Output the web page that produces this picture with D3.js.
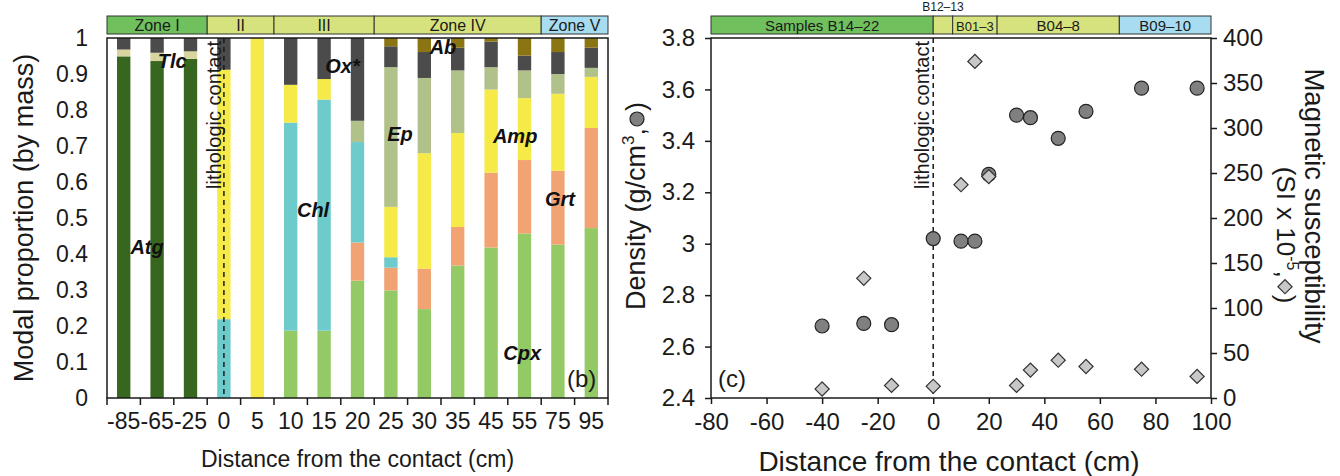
<!DOCTYPE html>
<html>
<head>
<meta charset="utf-8">
<title>Modal proportion, density and magnetic susceptibility</title>
<script src="https://cdn.jsdelivr.net/npm/d3@7"></script>
<style>
    html, body { margin: 0; padding: 0; background: #fff; }
    svg { display: block; font-family: "Liberation Sans", Arial, sans-serif; }
    .mineral { font-weight: bold; font-style: italic; font-size: 20px; fill: #111; }
</style>
</head>
<body>
<svg id="chart" width="1340" height="476"></svg>
<script>
// ---- (b) modal proportions, one array per mineral, same order as samples
var samples = ["-85", "-65", "-25", "0", "5", "10", "15", "20", "25", "30", "35", "45", "55", "75", "95"];
var cpx = [0, 0, 0, 0, 0, 0.187, 0.187, 0.326, 0.299, 0.247, 0.368, 0.418, 0.457, 0.426, 0.472];
var grt = [0, 0, 0, 0, 0, 0, 0, 0.106, 0.063, 0.112, 0.107, 0.208, 0.204, 0.205, 0.278];
var chl = [0, 0, 0, 0.219, 0, 0.578, 0.642, 0.279, 0.029, 0, 0, 0, 0, 0, 0];
var amp = [0, 0, 0, 0.693, 1, 0.105, 0.057, 0, 0.14, 0.321, 0.261, 0.231, 0.172, 0.214, 0.142];
var ep  = [0, 0, 0, 0, 0, 0, 0, 0.059, 0.388, 0.209, 0.174, 0.062, 0.077, 0.055, 0.025];
var atg = [0.949, 0.936, 0.942, 0, 0, 0, 0, 0, 0, 0, 0, 0, 0, 0, 0];
var tlc = [0.019, 0.023, 0.021, 0, 0, 0, 0, 0, 0, 0, 0, 0, 0, 0, 0];
var ox  = [0.032, 0.041, 0.037, 0.088, 0, 0.13, 0.114, 0.23, 0.058, 0.072, 0.063, 0.071, 0.041, 0.061, 0.056];
var ab  = [0, 0, 0, 0, 0, 0, 0, 0, 0.023, 0.039, 0.027, 0.01, 0.049, 0.039, 0.027];

// zones of (b), as [first sample index, last index + 1]
var zoneLabels = ["Zone I", "II", "III", "Zone IV", "Zone V"];
var zoneStart  = [0, 3, 5, 8, 13];
var zoneEnd    = [3, 5, 8, 13, 15];

// ---- (c) density and magnetic susceptibility
var densDist = [-40, -25, -15, 0, 10, 15, 20, 30, 35, 45, 55, 75, 95];
var density  = [2.68, 2.69, 2.685, 3.02, 3.01, 3.01, 3.27, 3.5, 3.49, 3.41, 3.515, 3.605, 3.605];
var magDist  = [-40, -25, -15, 0, 10, 15, 20, 30, 35, 45, 55, 75, 95];
var magSusc  = [10, 133, 14, 13, 237, 374, 246, 14, 31, 42, 35, 32, 24];

// sample groups of (c), in cm
var groupLabels = ["Samples B14\u201322", "", "B01\u20133", "B04\u20138", "B09\u201310"];
var groupStart  = [-80, 0, 7, 23, 67];
var groupEnd    = [0, 7, 23, 67, 100];

var ink = "#1a1a1a";
var colors = {
    Cpx: "#93ca66", Grt: "#f1a373", Chl: "#6ecbcb", Amp: "#f5ea48", Ep: "#b1c18a",
    Atg: "#37661f", Tlc: "#d9d59e", Ox: "#4b4b4b", Ab: "#8b7513"
};
var zoneFill = ["#70c05d", "#d6e27d", "#d6e27d", "#d6e27d", "#a8dcf0"];

var svg = d3.select("#chart");

// plain hyphen for negatives, like the original
function num(d) { return String(+d.toFixed(2)); }

function styleAxis(size) {
    return function(g) {
        g.attr("font-size", size).attr("font-family", null);
        g.selectAll("text").attr("fill", ink);
        g.selectAll("line").attr("stroke", ink).attr("stroke-width", 1.5);
        g.select(".domain").remove();
    };
}

// =========================== (b) stacked bars
var B = {left: 107, right: 608, top: 38, bottom: 398};
var x = d3.scaleBand().domain(samples).range([B.left, B.right]).paddingInner(0.6).paddingOuter(0.3);
var y = d3.scaleLinear().domain([0, 1]).range([B.bottom, B.top]);

var byMineral = {Cpx: cpx, Grt: grt, Chl: chl, Amp: amp, Ep: ep, Atg: atg, Tlc: tlc, Ox: ox, Ab: ab};
var keys = ["Cpx", "Grt", "Chl", "Amp", "Ep", "Atg", "Tlc", "Ox", "Ab"];
var rows = samples.map(function(s, i) {
    var r = {sample: s};
    keys.forEach(function(k) { r[k] = byMineral[k][i]; });
    return r;
});
var layers = d3.stack().keys(keys)(rows);

svg.append("g").selectAll("g")
    .data(layers)
    .join("g")
    .attr("fill", function(d) { return colors[d.key]; })
    .selectAll("rect")
    .data(function(d) { return d.filter(function(p) { return p[1] - p[0] > 0; }); })
    .join("rect")
    .attr("x", function(d) { return x(d.data.sample); })
    .attr("y", function(d) { return y(d[1]); })
    .attr("width", x.bandwidth())
    .attr("height", function(d) { return y(d[0]) - y(d[1]); });

// frame
svg.append("rect")
    .attr("x", B.left).attr("y", B.top)
    .attr("width", B.right - B.left).attr("height", B.bottom - B.top)
    .attr("fill", "none").attr("stroke", ink).attr("stroke-width", 1.5);

// boundary ticks between bars
var step = x.step();
svg.append("g").selectAll("line")
    .data(d3.range(samples.length + 1))
    .join("line")
    .attr("x1", function(k) { return B.left + k * step; })
    .attr("x2", function(k) { return B.left + k * step; })
    .attr("y1", B.bottom).attr("y2", B.bottom + 7)
    .attr("stroke", ink).attr("stroke-width", 1.5);

svg.append("g")
    .attr("transform", "translate(0," + B.bottom + ")")
    .call(d3.axisBottom(x).tickSize(0).tickPadding(15))
    .call(styleAxis(23));

svg.append("g")
    .attr("transform", "translate(" + B.left + ",0)")
    .call(d3.axisLeft(y).tickValues(d3.range(0, 11).map(function(i) { return i / 10; }))
        .tickFormat(num).tickSize(0).tickPadding(19))
    .call(styleAxis(23));

// zones bar
var zones = svg.append("g");
zoneLabels.forEach(function(lab, i) {
    var x0 = B.left + zoneStart[i] * step, x1 = B.left + zoneEnd[i] * step;
    zones.append("rect").attr("x", x0).attr("y", 16).attr("width", x1 - x0).attr("height", 18)
        .attr("fill", zoneFill[i]).attr("stroke", "#333").attr("stroke-width", 1);
    zones.append("text").attr("x", (x0 + x1) / 2).attr("y", 31)
        .attr("text-anchor", "middle").attr("font-size", 16).attr("fill", ink).text(lab);
});

// contact line
var cx0 = x("0") + x.bandwidth() / 2;
svg.append("line")
    .attr("x1", cx0).attr("x2", cx0).attr("y1", y(1)).attr("y2", y(0))
    .attr("stroke", ink).attr("stroke-width", 1.5).attr("stroke-dasharray", "5,4");
svg.append("text")
    .attr("transform", "translate(" + (cx0 - 3) + "," + 41 + ") rotate(-90)")
    .attr("text-anchor", "end").attr("font-size", 20).attr("fill", ink)
    .text("lithologic contact");

// mineral names, placed at band index / proportion
var labNames = ["Atg", "Tlc", "Ox*", "Chl", "Ep", "Ab", "Amp", "Grt", "Cpx"];
var labIndex = [0.70, 1.45, 6.55, 5.67, 8.27, 9.56, 11.72, 13.06, 11.93];
var labValue = [0.42, 0.936, 0.922, 0.522, 0.733, 0.975, 0.728, 0.553, 0.125];
svg.append("g").selectAll("text")
    .data(labNames)
    .join("text")
    .attr("class", "mineral")
    .attr("x", function(d, i) { return B.left + (labIndex[i] + 0.5) * step; })
    .attr("y", function(d, i) { return y(labValue[i]); })
    .attr("dy", "0.36em")
    .attr("text-anchor", "middle")
    .text(function(d) { return d; });

svg.append("text").attr("x", 567).attr("y", 387).attr("font-size", 24).attr("fill", ink).text("(b)");

svg.append("text")
    .attr("transform", "translate(33," + ((B.top + B.bottom) / 2) + ") rotate(-90)")
    .attr("text-anchor", "middle").attr("font-size", 27).attr("fill", ink)
    .text("Modal proportion (by mass)");
svg.append("text")
    .attr("x", (B.left + B.right) / 2).attr("y", 467)
    .attr("text-anchor", "middle").attr("font-size", 23).attr("fill", ink)
    .text("Distance from the contact (cm)");

// =========================== (c) scatter
var C = {left: 711, right: 1211, top: 38, bottom: 398};
var xr = d3.scaleLinear().domain([-80, 100]).range([C.left, C.right]);
var yd = d3.scaleLinear().domain([2.4, 3.8]).range([C.bottom, C.top]);
var ym = d3.scaleLinear().domain([0, 400]).range([C.bottom, C.top]);

svg.append("rect")
    .attr("x", C.left).attr("y", C.top)
    .attr("width", C.right - C.left).attr("height", C.bottom - C.top)
    .attr("fill", "none").attr("stroke", ink).attr("stroke-width", 1.5);

svg.append("g")
    .attr("transform", "translate(0," + C.bottom + ")")
    .call(d3.axisBottom(xr).tickValues(d3.range(-80, 101, 20)).tickFormat(num).tickSize(6).tickPadding(9))
    .call(styleAxis(24));
svg.append("g")
    .attr("transform", "translate(" + C.left + ",0)")
    .call(d3.axisLeft(yd).tickValues(d3.range(12, 20).map(function(i) { return i / 5; }))
        .tickFormat(num).tickSize(6).tickPadding(10))
    .call(styleAxis(24));
svg.append("g")
    .attr("transform", "translate(" + C.right + ",0)")
    .call(d3.axisRight(ym).tickValues(d3.range(0, 401, 50)).tickFormat(num).tickSize(6).tickPadding(6))
    .call(styleAxis(24));

// sample group bar
var groups = svg.append("g");
groupLabels.forEach(function(lab, i) {
    var x0 = xr(groupStart[i]), x1 = xr(groupEnd[i]);
    groups.append("rect").attr("x", x0).attr("y", 16).attr("width", x1 - x0).attr("height", 18)
        .attr("fill", zoneFill[i]).attr("stroke", "#333").attr("stroke-width", 1);
    var t = groups.append("text").attr("x", (x0 + x1) / 2).attr("y", 31)
        .attr("text-anchor", "middle").attr("font-size", 15).attr("fill", ink).text(lab);
    if (lab && t.node().getComputedTextLength() > x1 - x0 - 4) t.attr("font-size", 13);
});
svg.append("text")
    .attr("x", xr((groupStart[1] + groupEnd[1]) / 2)).attr("y", 11)
    .attr("text-anchor", "middle").attr("font-size", 12).attr("fill", ink)
    .text("B12\u201313");

// contact line
svg.append("line")
    .attr("x1", xr(0)).attr("x2", xr(0)).attr("y1", C.top).attr("y2", C.bottom)
    .attr("stroke", ink).attr("stroke-width", 1.5).attr("stroke-dasharray", "5,4");
svg.append("text")
    .attr("transform", "translate(" + (xr(0) - 4) + "," + 41 + ") rotate(-90)")
    .attr("text-anchor", "end").attr("font-size", 20).attr("fill", ink)
    .text("lithologic contact");

var diamond = d3.symbol().type(d3.symbolSquare).size(100);

svg.append("g").selectAll("circle")
    .data(density)
    .join("circle")
    .attr("cx", function(d, i) { return xr(densDist[i]); })
    .attr("cy", function(d) { return yd(d); })
    .attr("r", 7)
    .attr("fill", "#808080").attr("stroke", "#222").attr("stroke-width", 1.2);

svg.append("g").selectAll("path")
    .data(magSusc)
    .join("path")
    .attr("d", diamond)
    .attr("transform", function(d, i) { return "translate(" + xr(magDist[i]) + "," + ym(d) + ") rotate(45)"; })
    .attr("fill", "#c8c8c8").attr("stroke", "#333").attr("stroke-width", 1.2);

svg.append("text").attr("x", 718).attr("y", 387).attr("font-size", 24).attr("fill", ink).text("(c)");

svg.append("text")
    .attr("x", (C.left + C.right) / 2 - 12).attr("y", 471)
    .attr("text-anchor", "middle").attr("font-size", 28).attr("fill", ink)
    .text("Distance from the contact (cm)");

// left title with a circle marker inside
var dens = svg.append("g").attr("transform", "translate(645,206) rotate(-90)");
var dt = dens.append("text").attr("font-size", 27).attr("fill", ink);
dt.append("tspan").text("Density (g/cm");
dt.append("tspan").attr("font-size", 17).attr("dy", -11).text("3");
dt.append("tspan").attr("dy", 11).text(",");
var dLen = dt.node().getComputedTextLength();
var dClose = dens.append("text").attr("font-size", 27).attr("fill", ink).attr("x", dLen + 17).text(")");
var dTotal = dLen + 17 + dClose.node().getComputedTextLength();
dens.append("circle").attr("cx", dLen + 9).attr("cy", -8).attr("r", 7)
    .attr("fill", "#808080").attr("stroke", "#222").attr("stroke-width", 1.2);
dens.selectAll("text, circle").attr("transform", "translate(" + (-dTotal / 2) + ",0)");

// right title, two lines, diamond marker
svg.append("text")
    .attr("transform", "translate(1305,206) rotate(90)")
    .attr("text-anchor", "middle").attr("font-size", 27.5).attr("fill", ink)
    .text("Magnetic susceptibility");
var mag = svg.append("g").attr("transform", "translate(1277,235) rotate(90)");
var mt = mag.append("text").attr("font-size", 26).attr("fill", ink);
mt.append("tspan").text("(SI x 10");
mt.append("tspan").attr("font-size", 16).attr("dy", -10).text("-5");
mt.append("tspan").attr("dy", 10).text(",");
var mLen = mt.node().getComputedTextLength();
var mClose = mag.append("text").attr("font-size", 26).attr("fill", ink).attr("x", mLen + 17).text(")");
var mTotal = mLen + 17 + mClose.node().getComputedTextLength();
mag.append("path").attr("d", diamond)
    .attr("transform", "translate(" + (mLen + 9 - mTotal / 2) + ",-8) rotate(45)")
    .attr("fill", "#c8c8c8").attr("stroke", "#333").attr("stroke-width", 1.2);
mag.selectAll("text").attr("transform", "translate(" + (-mTotal / 2) + ",0)");
</script>
</body>
</html>
